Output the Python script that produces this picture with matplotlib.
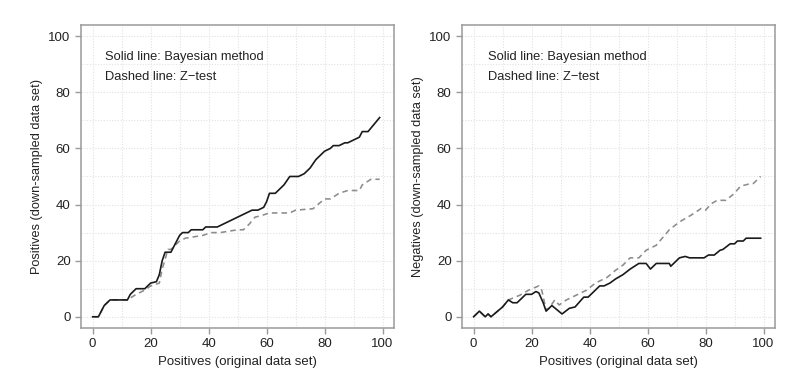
import matplotlib
matplotlib.use("Agg")
import matplotlib.pyplot as plt

plt.rcParams['font.family'] = ['Liberation Sans', 'DejaVu Sans']

# left panel: positives
pos_bayes_x = [0, 2, 4, 6, 12, 13, 15, 18, 20, 22, 23, 24, 25, 27, 30, 31, 33, 34, 38, 39, 43, 45, 47, 49,
               51, 53, 55, 57, 59, 60, 61, 63, 66, 68, 71, 73, 75, 77, 80, 82, 83, 85, 87, 88, 90, 92, 93, 95, 99]
pos_bayes_y = [0, 0, 4, 6, 6, 8, 10, 10, 12, 12.5, 15, 20, 23, 23, 29, 30, 30, 31, 31, 32, 32, 33, 34, 35,
               36, 37, 38, 38, 39, 41, 44, 44, 47, 50, 50, 51, 53, 56, 59, 60, 61, 61, 62, 62, 63, 64, 66, 66, 71]
pos_z_x = [0, 2, 4, 6, 12, 15, 18, 20, 23, 24, 26, 27, 30, 32, 35, 38, 41, 44, 50, 52, 54, 56, 58, 61,
           68, 70, 76, 80, 82, 85, 88, 92, 93, 96, 99]
pos_z_y = [0, 0, 4, 6, 6, 8, 9.5, 11, 12, 17, 24, 24, 27, 28, 28.5, 29, 30, 30, 31, 31, 33, 35.5, 36, 37,
           37, 38, 38.5, 42, 42, 44, 45, 45, 47, 49, 49]

# right panel: negatives
neg_bayes_x = [0, 2, 4, 5, 6, 10, 12, 13.5, 15, 18, 20, 21.5, 22.5, 24, 25, 27, 30.5, 33, 35, 38, 39.5, 43.5,
               45, 47, 49, 51.5, 54, 57, 59.5, 61, 63, 67.5, 68, 71, 73, 74.5, 79.5, 81, 83, 85, 86, 88.5,
               90, 91, 93, 94, 99]
neg_bayes_y = [0, 2, 0, 1, 0, 3.5, 6, 5, 5, 8, 8, 9, 8.5, 5, 2, 4, 1, 3, 3.5, 7, 7, 11,
               11, 12, 13.5, 15, 17, 19, 19, 17, 19, 19, 18, 21, 21.5, 21, 21, 22, 22, 23.7, 24, 26,
               26, 27, 27, 28, 28]
neg_z_x = [0, 2, 4, 5, 6, 10, 12, 16, 19, 22.5, 23.5, 25, 26, 28, 29.5, 32, 34, 39, 42, 46, 49, 51.5,
           54, 57, 59.5, 63, 67.5, 71, 75, 78.5, 80, 82, 84, 87, 90, 92, 94.5, 96.5, 99]
neg_z_y = [0, 2, 0, 1, 0, 3.5, 6, 7.7, 9.5, 11, 9.5, 2.5, 3, 6, 4.2, 6, 7, 9.5, 12, 14, 16.6, 18.4,
           21, 21, 23.7, 25.5, 31, 33.8, 36.2, 38.6, 38, 40.3, 41.5, 41.5, 44, 46.5, 47.2, 47.5, 50]

ticks = [0, 20, 40, 60, 80, 100]
ylabels = ["Positives (down-sampled data set)", "Negatives (down-sampled data set)"]
xlabel = "Positives (original data set)"

fig = plt.figure(figsize=(8.07, 3.9), dpi=100)
ax1 = fig.add_axes([0.1004, 0.159, 0.388, 0.777])
ax2 = fig.add_axes([0.5725, 0.159, 0.388, 0.777])

panels = [(ax1, pos_bayes_x, pos_bayes_y, pos_z_x, pos_z_y, 4.3),
          (ax2, neg_bayes_x, neg_bayes_y, neg_z_x, neg_z_y, 5.0)]

for i, (ax, bx, by, zx, zy, tx) in enumerate(panels):
    # faint grid every 10
    for g in range(0, 101, 10):
        ax.axvline(g, color='#e2e2e2', lw=0.8, ls=(0, (1, 1.5)), zorder=0)
        ax.axhline(g, color='#e2e2e2', lw=0.8, ls=(0, (1, 1.5)), zorder=0)
    ax.plot(zx, zy, color='#8c8c8c', lw=1.15, ls=(0, (3.5, 2.5)), zorder=2)
    ax.plot(bx, by, color='#1a1a1a', lw=1.2, zorder=3)
    ax.set_xlim(-4, 104)
    ax.set_ylim(-4, 104)
    ax.set_xticks(ticks)
    ax.set_yticks(ticks)
    for s in ax.spines.values():
        s.set_color('#9a9a9a')
        s.set_linewidth(1.1)
    ax.tick_params(colors='#9a9a9a', labelcolor='#222222', labelsize=9.5, length=4, width=1)
    ax.set_xlabel(xlabel, fontsize=9.5, color='#222222', labelpad=4)
    ax.set_ylabel(ylabels[i], fontsize=9.2, color='#222222', labelpad=4)
    ax.text(tx, 92.5, "Solid line: Bayesian method", fontsize=9.3, color='#222222', va='center')
    ax.text(tx, 85.3, "Dashed line: Z\u2212test", fontsize=9.3, color='#222222', va='center')

fig.savefig("out.png", dpi=100, facecolor='white')
